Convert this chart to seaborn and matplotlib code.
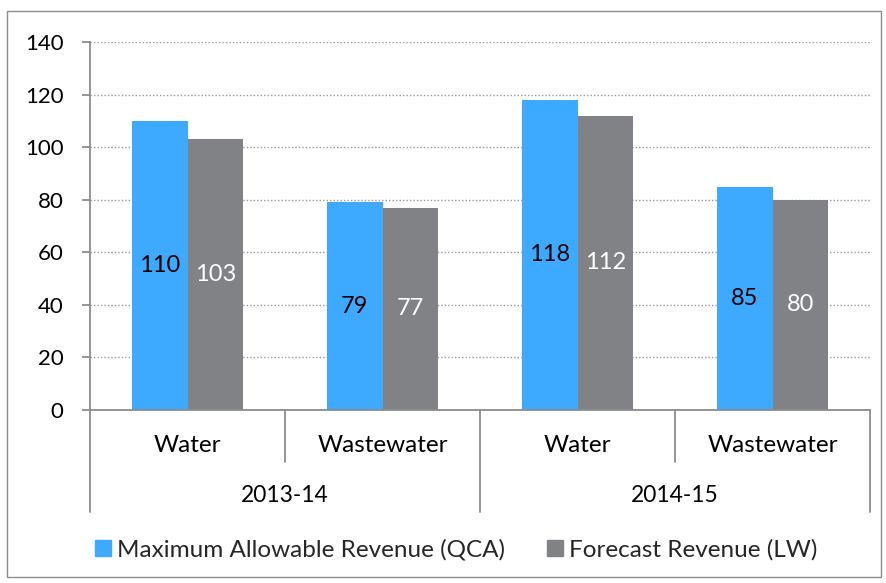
import matplotlib
matplotlib.use("Agg")
import matplotlib.pyplot as plt
import matplotlib.patches as mpatches
import seaborn as sns
import pandas as pd

years = ["2013-14", "2014-15"]
services = ["Water", "Wastewater"]
series = ["Maximum Allowable Revenue (QCA)", "Forecast Revenue (LW)"]
qca_values = [110, 79, 118, 85]
lw_values = [103, 77, 112, 80]
yticks = [0, 20, 40, 60, 80, 100, 120, 140]

colors = ["#3DAAFF", "#818285"]
axis_grey = "#8C8C8C"

cats = [f"{y}|{s}" for y in years for s in services]
df = pd.DataFrame({
    "cat": cats * 2,
    "series": [series[0]] * 4 + [series[1]] * 4,
    "value": qca_values + lw_values,
})

sns.set_theme(style="white")
plt.rcParams["font.family"] = ["Lato", "DejaVu Sans"]

W, H = 886, 583
fig = plt.figure(figsize=(W / 100, H / 100), dpi=100)
L, R, T, B = 90, 870, 42, 410
ax = fig.add_axes([L / W, 1 - B / H, (R - L) / W, (B - T) / H])

sns.barplot(data=df, x="cat", y="value", hue="series", order=cats,
            hue_order=series, palette=colors, width=0.57, gap=0,
            saturation=1, ax=ax, legend=False, edgecolor="none", linewidth=0)

ax.set_ylim(0, 140)
ax.set_xlim(-0.5, 3.5)
ax.set_yticks(yticks)
ax.set_yticklabels([str(v) for v in yticks], fontsize=16, color="#000000")
ax.set_xticks([])
ax.set_xlabel("")
ax.set_ylabel("")
ax.yaxis.grid(True, linestyle=(0, (1, 1.5)), color="#9A9A9A", linewidth=1.0)
ax.set_axisbelow(True)
for s in ["top", "right"]:
    ax.spines[s].set_visible(False)
for s in ["left", "bottom"]:
    ax.spines[s].set_color(axis_grey)
    ax.spines[s].set_linewidth(1.3)
ax.tick_params(axis="y", length=6, width=1.3, color=axis_grey, left=True, pad=13)

label_colors = ["#000000", "#FFFFFF"]
for cont, lc in zip(ax.containers, label_colors):
    ax.bar_label(cont, fmt="%.0f", label_type="center", color=lc, fontsize=17)

# Multi-level category axis
h = B - T
def yf(p):
    return (B - p) / h

tr = ax.get_xaxis_transform()
for i in range(len(cats)):
    svc = cats[i].split("|")[1]
    ax.text(i, yf(446), svc, transform=tr, ha="center", va="center",
            fontsize=17.5, color="#000000", clip_on=False)
for j, yr in enumerate(years):
    ax.text(2 * j + 0.5, yf(495), yr, transform=tr, ha="center", va="center",
            fontsize=16.4, color="#000000", clip_on=False)
for xb in [0.5, 2.5]:
    ax.plot([xb, xb], [0, yf(462)], transform=tr, color=axis_grey, lw=1.3,
            clip_on=False)
for xb in [-0.5, 1.5, 3.5]:
    ax.plot([xb, xb], [0, yf(512)], transform=tr, color=axis_grey, lw=1.3,
            clip_on=False)

handles = [mpatches.Patch(color=c, label=s) for c, s in zip(colors, series)]
fig.legend(handles=handles, loc="center", bbox_to_anchor=(456 / W, 1 - 550 / H),
           ncol=2, frameon=False, fontsize=17.5, handlelength=0.66,
           handleheight=0.66, handletextpad=0.25, columnspacing=1.73)

border = mpatches.Rectangle((7 / W, 1 - 577 / H), (881 - 7) / W, (577 - 11) / H,
                            transform=fig.transFigure, fill=False,
                            edgecolor="#8C8C8C", linewidth=1.0)
fig.patches.append(border)

fig.savefig("out.png", dpi=100)
